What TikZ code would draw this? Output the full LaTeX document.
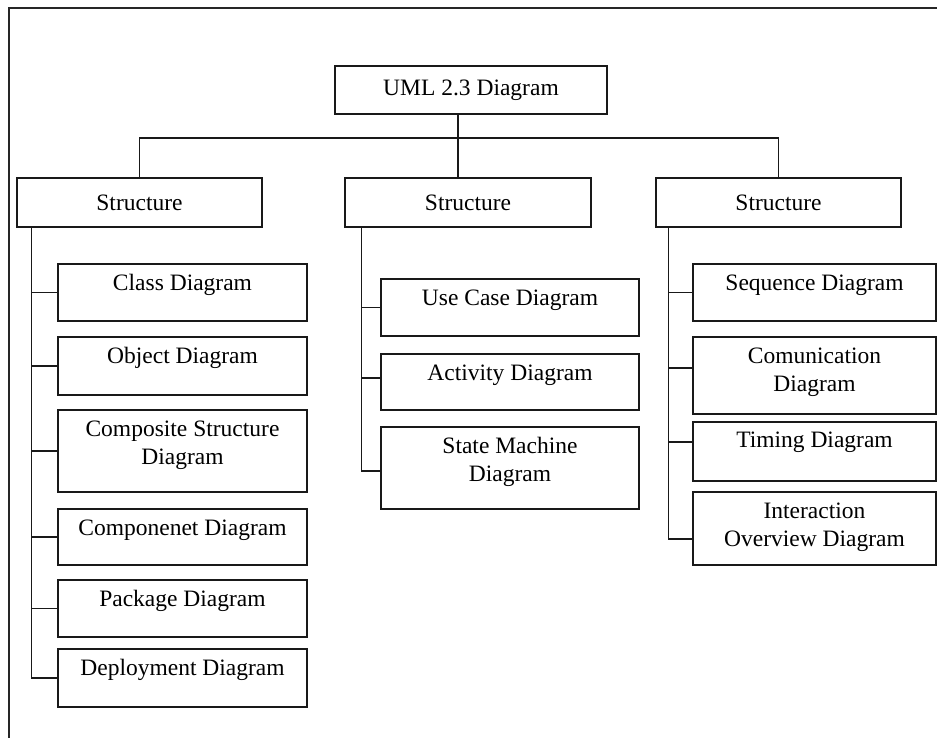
\documentclass[tikz,border=0pt]{standalone}
\usepackage{fontspec}
\setmainfont{Liberation Serif}
\usetikzlibrary{calc}
\begin{document}
\begin{tikzpicture}[x=1pt,y=-1pt,
  box/.style={draw=black!90, line width=1.3pt, inner sep=0pt},
  lbl/.style={anchor=north, inner sep=0pt, yshift=-11pt, align=center, font=\fontsize{23.5}{28}\selectfont},
  head/.style={box, font=\fontsize{23.5}{28}\selectfont},
  conn/.style={draw=black!90, line width=1.3pt},
  frame/.style={draw=black!85, line width=1.5pt}]
\useasboundingbox (0,0) rectangle (937,738);
\draw[frame] (9,740) -- (9,8) -- (937,8);

% top level
\node[head, minimum width=272pt, minimum height=48pt] (uml) at (471,90) {UML 2.3 Diagram};
\node[head, minimum width=245pt, minimum height=49pt] (s1) at (139.5,202.5) {Structure};
\node[head, minimum width=246pt, minimum height=49pt] (s2) at (468,202.5) {Structure};
\node[head, minimum width=245pt, minimum height=49pt] (s3) at (778.5,202.5) {Structure};

% left column
\node[box, minimum width=249pt, minimum height=57pt, label={[lbl]north:{Class Diagram}}] (cls) at (182.5,292.5) {};
\node[box, minimum width=249pt, minimum height=58pt, label={[lbl]north:{Object Diagram}}] (obj) at (182.5,366) {};
\node[box, minimum width=249pt, minimum height=82pt, label={[lbl]north:{Composite Structure\\Diagram}}] (comp) at (182.5,451) {};
\node[box, minimum width=249pt, minimum height=56pt, label={[lbl]north:{Componenet Diagram}}] (cmpn) at (182.5,537) {};
\node[box, minimum width=249pt, minimum height=57pt, label={[lbl]north:{Package Diagram}}] (pkg) at (182.5,608.5) {};
\node[box, minimum width=249pt, minimum height=58pt, label={[lbl]north:{Deployment Diagram}}] (dep) at (182.5,678) {};

% middle column
\node[box, minimum width=258pt, minimum height=57pt, label={[lbl]north:{Use Case Diagram}}] (uc) at (510,307.5) {};
\node[box, minimum width=258pt, minimum height=56pt, label={[lbl]north:{Activity Diagram}}] (act) at (510,382) {};
\node[box, minimum width=258pt, minimum height=82pt, label={[lbl]north:{State Machine\\Diagram}}] (sm) at (510,468) {};

% right column
\node[box, minimum width=243pt, minimum height=57pt, label={[lbl]north:{Sequence Diagram}}] (seq) at (814.5,292.5) {};
\node[box, minimum width=243pt, minimum height=77pt, label={[lbl]north:{Comunication\\Diagram}}] (com) at (814.5,375.5) {};
\node[box, minimum width=243pt, minimum height=59pt, label={[lbl,yshift=1pt]north:{Timing Diagram}}] (tim) at (814.5,451.5) {};
\node[box, minimum width=243pt, minimum height=73pt, label={[lbl]north:{Interaction\\Overview Diagram}}] (int) at (814.5,528.5) {};

% top connectors
\coordinate (j) at (458,138);
\draw[conn] (uml.south -| j) -- (s2.north -| j);
\draw[conn] (s1.north) -- (s1.north |- j) -- (s3.north |- j) -- (s3.north);

% left spine
\coordinate (p1) at ([xshift=15pt]s1.south west);
\draw[conn] (p1) |- (dep.west);
\foreach \n in {cls,obj,comp,cmpn,pkg} \draw[conn] (p1 |- \n.west) -- (\n.west);

% middle spine
\coordinate (p2) at ([xshift=17pt]s2.south west);
\coordinate (smw) at ([yshift=-3pt]sm.west);
\coordinate (actw) at ([yshift=4pt]act.west);
\draw[conn] (p2) |- (smw);
\draw[conn] (p2 |- uc.west) -- (uc.west);
\draw[conn] (p2 |- actw) -- (actw);

% right spine
\coordinate (p3) at ([xshift=13pt]s3.south west);
\coordinate (intw) at ([yshift=-10.5pt]int.west);
\coordinate (comw) at ([yshift=7.5pt]com.west);
\coordinate (timw) at ([yshift=9.5pt]tim.west);
\draw[conn] (p3) |- (intw);
\draw[conn] (p3 |- seq.west) -- (seq.west);
\draw[conn] (p3 |- comw) -- (comw);
\draw[conn] (p3 |- timw) -- (timw);
\end{tikzpicture}
\end{document}
